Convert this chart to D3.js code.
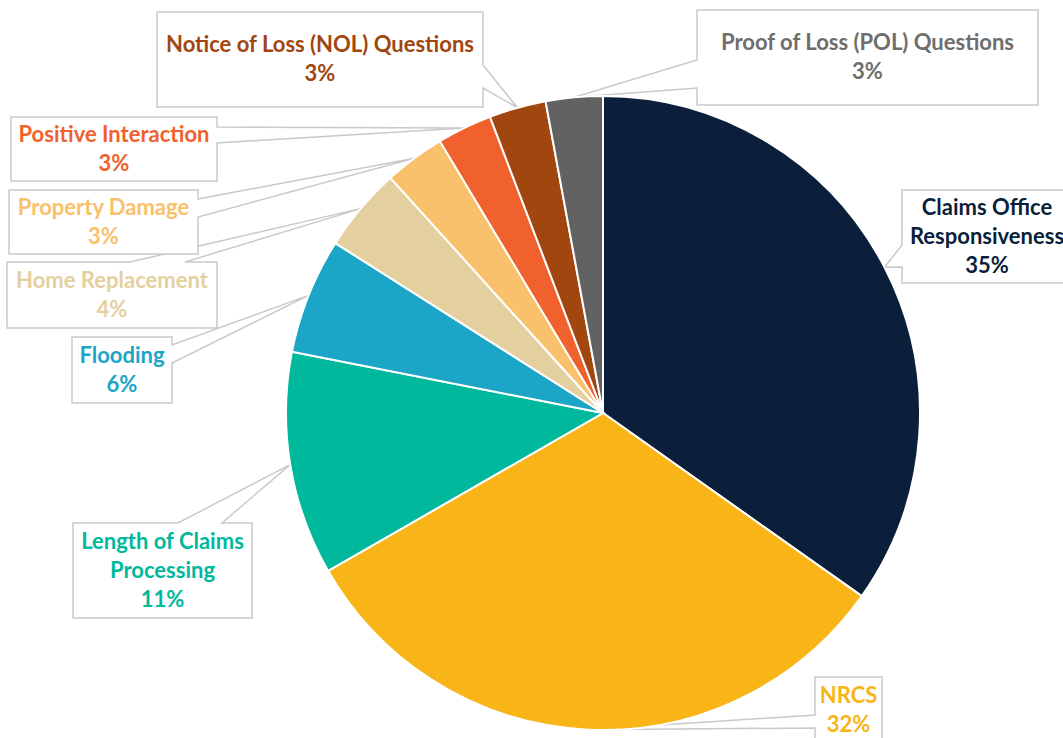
<!DOCTYPE html>
<html>
<head>
<meta charset="utf-8">
<script src="https://cdn.jsdelivr.net/npm/d3@7"></script>
<style>
  html, body { margin: 0; padding: 0; background: #ffffff; }
  svg { display: block; }
  .lbl { font-family: Lato, "Noto Sans", sans-serif; font-weight: 700; font-size: 22px; }
</style>
</head>
<body>
<svg id="chart" width="1063" height="738"></svg>
<script>
// slices clockwise from 12 o'clock
const categories = [
  "Claims Office Responsiveness",
  "NRCS",
  "Length of Claims Processing",
  "Flooding",
  "Home Replacement",
  "Property Damage",
  "Positive Interaction",
  "Notice of Loss (NOL) Questions",
  "Proof of Loss (POL) Questions"
];
const values = [34.8, 31.9, 11.4, 5.9, 4.3, 3.1, 2.8, 2.9, 2.9];
const labelLines = [
  ["Claims Office", "Responsiveness"],
  ["NRCS"],
  ["Length of Claims", "Processing"],
  ["Flooding"],
  ["Home Replacement"],
  ["Property Damage"],
  ["Positive Interaction"],
  ["Notice of Loss (NOL) Questions"],
  ["Proof of Loss (POL) Questions"]
];
const colors = ["#0b1f3b", "#f9b418", "#00b89b", "#1ba5c6", "#e4d09f", "#f9c16b", "#f0612d", "#a1460f", "#626262"];
const textColors = ["#0b1f3b", "#f9b418", "#00b89b", "#1ba5c6", "#e4d09f", "#f9c16b", "#f0612d", "#a1460f", "#6e6e6e"];

// callout boxes: box + side the pointer leaves from, with offsets along that side
const callouts = [
  { x: 902, y: 190, w: 170, h: 93, side: "left", t1: 55, t2: 77 },
  { x: 815, y: 677, w: 67, h: 66, side: "left", t1: 38, t2: 51 },
  { x: 73, y: 523, w: 179, h: 95, side: "top", t1: 105, t2: 149 },
  { x: 72, y: 337, w: 100, h: 66, side: "right", t1: 8, t2: 26 },
  { x: 7, y: 262, w: 210, h: 66, side: "top", t1: 123, t2: 178 },
  { x: 9, y: 190, w: 189, h: 64, side: "right", t1: 9, t2: 27 },
  { x: 11, y: 117, w: 206, h: 64, side: "right", t1: 10, t2: 26 },
  { x: 157, y: 12, w: 326, h: 95, side: "right", t1: 53, t2: 76 },
  { x: 697, y: 10, w: 341, h: 95, side: "left", t1: 50, t2: 78 }
];

const svg = d3.select("#chart");
const W = 1063, H = 738;
const cx = 603, cy = 413, R = 317;
const lineH = 29;

svg.append("rect").attr("width", W).attr("height", H).attr("fill", "#ffffff");

const total = d3.sum(values);
const pie = d3.pie().sort(null).value(d => d)(values);
const arc = d3.arc().innerRadius(0).outerRadius(R);

function tipPoint(p) {
  const a = (p.startAngle + p.endAngle) / 2;
  return [cx + R * Math.sin(a), cy - R * Math.cos(a)];
}

function calloutPath(c, tip) {
  const { x, y, w, h, side, t1, t2 } = c;
  const pts = [[x, y]];
  if (side === "top") pts.push([x + t1, y], tip, [x + t2, y]);
  pts.push([x + w, y]);
  if (side === "right") pts.push([x + w, y + t1], tip, [x + w, y + t2]);
  pts.push([x + w, y + h]);
  if (side === "bottom") pts.push([x + t2, y + h], tip, [x + t1, y + h]);
  pts.push([x, y + h]);
  if (side === "left") pts.push([x, y + t2], tip, [x, y + t1]);
  return "M" + pts.map(p => p.join(",")).join("L") + "Z";
}

// callouts (behind the pie)
const gLabels = svg.append("g");
pie.forEach((p, i) => {
  const c = callouts[i];
  gLabels.append("path")
    .attr("d", calloutPath(c, tipPoint(p)))
    .attr("fill", "#ffffff")
    .attr("stroke", "#c9c9c9")
    .attr("stroke-width", 1.5);

  const lines = labelLines[i].concat([Math.round(values[i] / total * 100) + "%"]);
  const midY = c.y + c.h / 2;
  const y0 = midY - (lines.length - 1) * lineH / 2 + 7;
  const t = gLabels.append("text")
    .attr("class", "lbl")
    .attr("fill", textColors[i])
    .attr("text-anchor", "middle");
  lines.forEach((s, k) => {
    t.append("tspan")
      .attr("x", c.x + c.w / 2)
      .attr("y", y0 + k * lineH)
      .text(s);
  });
});

// pie
svg.append("g")
  .attr("transform", `translate(${cx},${cy})`)
  .selectAll("path")
  .data(pie)
  .enter()
  .append("path")
  .attr("d", arc)
  .attr("fill", (d, i) => colors[i])
  .attr("stroke", "#ffffff")
  .attr("stroke-width", 2);
</script>
</body>
</html>
